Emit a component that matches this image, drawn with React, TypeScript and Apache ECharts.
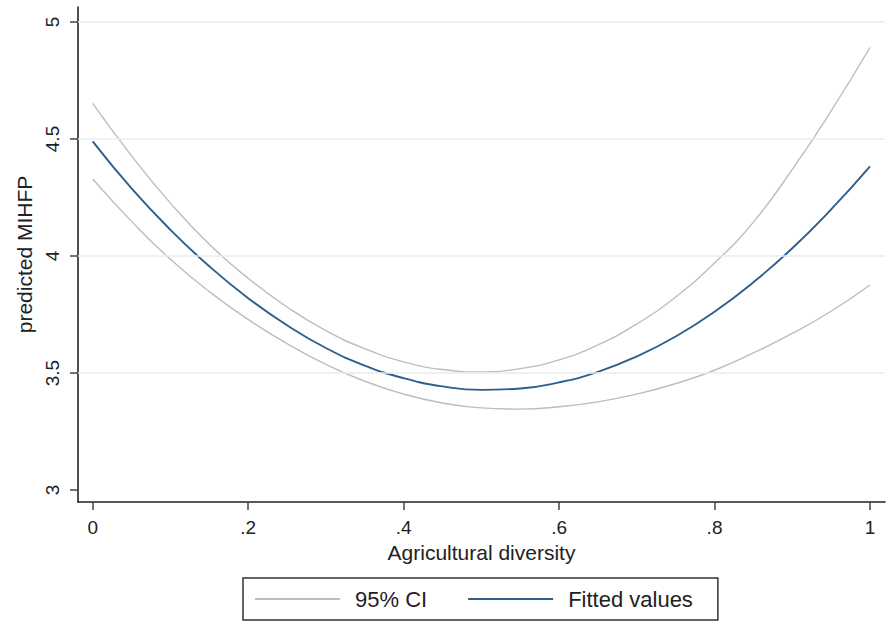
import React, { useEffect, useRef } from "react";
import * as echarts from "echarts";

// x positions (Agricultural diversity)
const xs = [0, 0.05, 0.1, 0.15, 0.2, 0.25, 0.3, 0.35, 0.4, 0.45, 0.5, 0.55, 0.6, 0.65, 0.7, 0.75, 0.8, 0.85, 0.9, 0.95, 1];
// Fitted values (predicted MIHFP)
const fitted = [4.49, 4.289, 4.112, 3.956, 3.82, 3.704, 3.607, 3.532, 3.478, 3.443, 3.428, 3.434, 3.46, 3.505, 3.571, 3.656, 3.762, 3.888, 4.033, 4.199, 4.383];
// 95% CI upper bound
const ciUpper = [4.652, 4.428, 4.226, 4.05, 3.905, 3.782, 3.681, 3.604, 3.548, 3.515, 3.505, 3.519, 3.556, 3.62, 3.71, 3.825, 3.97, 4.145, 4.37, 4.62, 4.891];
// 95% CI lower bound
const ciLower = [4.329, 4.148, 3.986, 3.848, 3.729, 3.626, 3.537, 3.465, 3.41, 3.372, 3.351, 3.346, 3.356, 3.377, 3.41, 3.455, 3.512, 3.586, 3.669, 3.764, 3.876];

const xTicks = [0, 0.2, 0.4, 0.6, 0.8, 1];
const yTicks = [3, 3.5, 4, 4.5, 5];
const yGrid = [3.5, 4, 4.5, 5];

const FONT = "Liberation Sans";
const TEXT = "#222";

const fmtX = (v: number) => (v === 0 ? "0" : v === 1 ? "1" : String(v).replace(/^0/, ""));
const fmtY = (v: number) => String(v);

export default function App() {
  const ref = useRef<HTMLDivElement>(null);
  useEffect(() => {
    if (!ref.current) return;
    const chart = echarts.init(ref.current, null, { renderer: "svg" });
    const pts = (ys: number[]) => xs.map((x, i) => [x, ys[i]]);
    chart.setOption({
      animation: false,
      backgroundColor: "#ffffff",
      textStyle: { fontFamily: FONT },
      grid: { left: 78, right: 4, top: 7, bottom: 120 },
      xAxis: {
        type: "value",
        min: -0.0189,
        max: 1.0193,
        name: "Agricultural diversity",
        nameLocation: "middle",
        nameGap: 39,
        nameTextStyle: { fontFamily: FONT, fontSize: 21, color: TEXT },
        axisLine: { show: true, onZero: false, lineStyle: { color: "#222", width: 1.6 } },
        axisTick: { show: true, customValues: xTicks, length: 8, lineStyle: { color: "#444", width: 1.5 } },
        axisLabel: { customValues: xTicks, formatter: fmtX, margin: 16, fontFamily: FONT, fontSize: 19, color: TEXT },
        splitLine: { show: false },
      },
      yAxis: {
        type: "value",
        min: 2.949,
        max: 5.064,
        name: "predicted MIHFP",
        nameLocation: "middle",
        nameGap: 40,
        nameRotate: 90,
        nameTextStyle: { fontFamily: FONT, fontSize: 21, color: TEXT },
        axisLine: { show: true, onZero: false, lineStyle: { color: "#222", width: 1.6 } },
        axisTick: { show: true, customValues: yTicks, length: 8, lineStyle: { color: "#444", width: 1.5 } },
        axisLabel: { customValues: yTicks, formatter: fmtY, rotate: 90, margin: 16, fontFamily: FONT, fontSize: 19, color: TEXT },
        splitLine: { show: false },
      },
      legend: {
        data: ["95% CI", "Fitted values"],
        left: 243,
        top: 578,
        orient: "horizontal",
        icon: "rect",
        itemWidth: 85,
        itemHeight: 2,
        itemGap: 41,
        padding: [10, 25, 10, 12],
        borderColor: "#333",
        borderWidth: 1.5,
        borderRadius: 0,
        textStyle: { fontFamily: FONT, fontSize: 22, color: TEXT, padding: [0, 0, 0, 10] },
      },
      series: [
        {
          name: "gridlines",
          type: "line",
          data: [],
          silent: true,
          markLine: {
            silent: true,
            symbol: "none",
            label: { show: false },
            lineStyle: { color: "#e6eef0", width: 1.5, type: "solid" },
            data: yGrid.map((v) => ({ yAxis: v })),
          },
        },
        {
          name: "95% CI",
          type: "line",
          data: pts(ciUpper),
          smooth: true,
          symbol: "none",
          itemStyle: { color: "#bdbdbd" },
          lineStyle: { color: "#bdbdbd", width: 1.4 },
        },
        {
          name: "95% CI",
          type: "line",
          data: pts(ciLower),
          smooth: true,
          symbol: "none",
          itemStyle: { color: "#bdbdbd" },
          lineStyle: { color: "#bdbdbd", width: 1.4 },
        },
        {
          name: "Fitted values",
          type: "line",
          data: pts(fitted),
          smooth: true,
          symbol: "none",
          itemStyle: { color: "#2d5e8e" },
          lineStyle: { color: "#2d5e8e", width: 1.9 },
        },
      ],
    });
    return () => chart.dispose();
  }, []);
  return <div ref={ref} style={{ position: "fixed", left: 0, top: 0, width: 889, height: 622 }} />;
}
